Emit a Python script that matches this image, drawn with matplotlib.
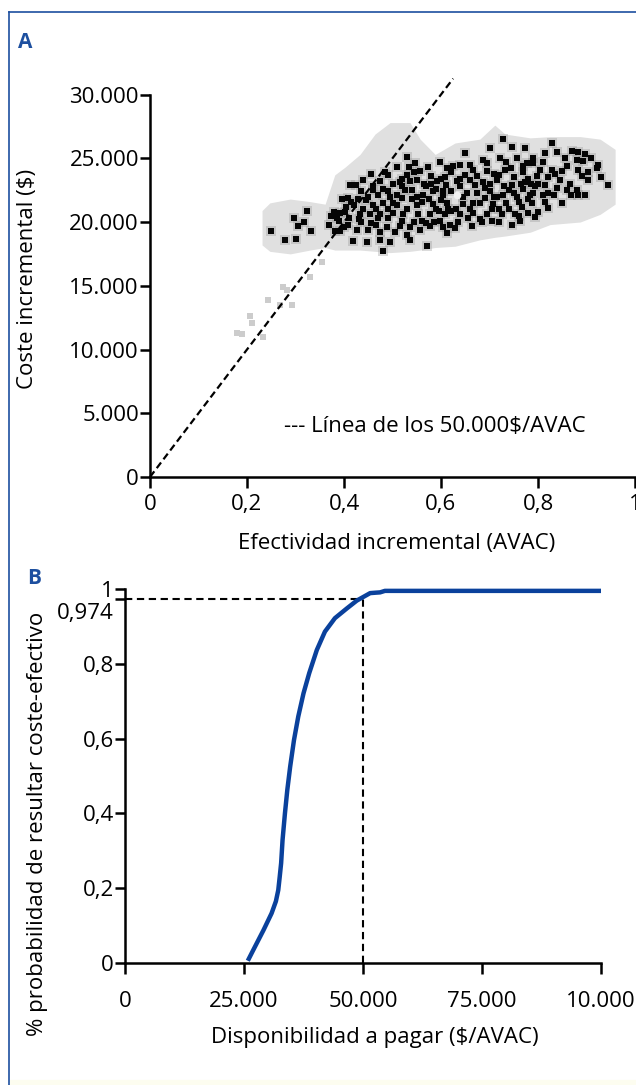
import matplotlib
matplotlib.use("Agg")
import matplotlib.pyplot as plt
from matplotlib.lines import Line2D
from matplotlib.transforms import ScaledTranslation

plt.rcParams['font.family'] = ['Open Sans', 'DejaVu Sans']

# ---------------- Panel A data ----------------
# dark simulation points (effectiveness AVAC, cost in thousands $)
dark_x = [0.249, 0.278, 0.297, 0.302, 0.305, 0.318, 0.323, 0.332, 0.373, 0.392, 0.392, 0.404, 0.409,
          0.412, 0.436, 0.429, 0.460, 0.474, 0.491, 0.480, 0.509, 0.519, 0.529, 0.546, 0.557, 0.573, 0.598,
          0.540, 0.563, 0.584, 0.577, 0.553, 0.522, 0.501, 0.474, 0.454, 0.433, 0.402, 0.385, 0.408, 0.426,
          0.449, 0.467, 0.488, 0.515, 0.536, 0.557, 0.577, 0.598, 0.474, 0.495, 0.536, 0.480, 0.447, 0.419,
          0.381, 0.571, 0.529, 0.509, 0.491, 0.536, 0.591, 0.604, 0.584,
          0.649, 0.701, 0.728, 0.746, 0.773, 0.687, 0.722, 0.756, 0.777, 0.612, 0.639, 0.666, 0.694, 0.732,
          0.769, 0.608, 0.632, 0.660, 0.687, 0.715, 0.746, 0.773, 0.604, 0.653, 0.674, 0.701, 0.728, 0.756,
          0.784, 0.612, 0.645, 0.680, 0.707, 0.735, 0.766, 0.608, 0.639, 0.666, 0.694, 0.725, 0.753, 0.779,
          0.619, 0.663, 0.705, 0.746, 0.763, 0.612, 0.629,
          0.828, 0.814, 0.839, 0.883, 0.897, 0.880, 0.893, 0.856, 0.924, 0.921, 0.790, 0.804, 0.828, 0.859,
          0.883, 0.904, 0.797, 0.821, 0.845, 0.904, 0.945, 0.794, 0.814, 0.839, 0.859, 0.880, 0.869, 0.883,
          0.897, 0.790, 0.811, 0.832, 0.787, 0.814, 0.801, 0.794, 0.821,
          0.44, 0.45, 0.46, 0.47, 0.48, 0.49, 0.50, 0.50, 0.52, 0.52, 0.53, 0.54, 0.55, 0.55, 0.56, 0.57,
          0.58, 0.59, 0.60, 0.61, 0.62, 0.62, 0.63, 0.64, 0.65, 0.66, 0.67, 0.68, 0.69, 0.70, 0.71, 0.72,
          0.72, 0.74, 0.75, 0.76, 0.77, 0.78, 0.43, 0.46, 0.39, 0.42,
          0.41, 0.415, 0.425, 0.435, 0.44, 0.445, 0.455, 0.455, 0.465, 0.47, 0.475, 0.485, 0.49, 0.495,
          0.505, 0.51, 0.515, 0.52, 0.525, 0.53, 0.535, 0.545, 0.545, 0.55, 0.56, 0.565, 0.57, 0.575,
          0.58, 0.585, 0.59, 0.595, 0.60, 0.605, 0.615, 0.62, 0.625, 0.635, 0.64, 0.645, 0.655, 0.66,
          0.665, 0.675, 0.685, 0.69, 0.695, 0.705, 0.71, 0.715, 0.72, 0.73, 0.735, 0.74, 0.745, 0.75,
          0.76, 0.765, 0.77, 0.78, 0.785, 0.79, 0.80, 0.81, 0.82, 0.835, 0.85, 0.865, 0.87, 0.89, 0.91,
          0.93, 0.85, 0.37, 0.38, 0.395, 0.40]
dark_y = [19.3, 18.6, 20.3, 18.7, 19.7, 20.0, 20.9, 19.3, 20.5, 20.7, 19.3, 21.2, 21.9,
          22.9, 22.4, 21.8, 22.8, 23.2, 22.4, 21.5, 22.1, 22.8, 23.7, 24.6, 24.0, 24.3, 24.7,
          21.8, 22.1, 21.4, 20.6, 20.6, 20.6, 20.7, 20.6, 20.6, 20.6, 20.8, 20.3, 19.8, 19.4,
          19.4, 19.8, 19.6, 19.7, 19.6, 19.4, 19.7, 20.1, 18.6, 18.4, 18.6, 17.7, 18.4, 18.5,
          19.3, 18.1, 25.1, 24.3, 23.7, 23.2, 23.2, 22.1, 22.4,
          25.4, 25.8, 26.5, 25.9, 25.8, 24.9, 25.0, 25.0, 24.6, 24.2, 24.5, 24.1, 24.0, 24.1,
          23.9, 23.5, 23.2, 23.3, 23.1, 23.3, 22.9, 23.1, 22.4, 22.3, 22.3, 22.4, 22.1, 22.0,
          22.1, 21.5, 21.4, 21.5, 21.4, 21.5, 21.2, 20.6, 20.6, 20.7, 20.6, 20.6, 20.6, 20.7,
          19.8, 19.7, 20.1, 19.8, 20.1, 19.1, 19.5,
          26.2, 25.4, 25.5, 25.5, 25.3, 24.9, 24.8, 25.0, 24.5, 24.2, 24.6, 24.1, 24.1, 24.4,
          24.1, 23.9, 23.6, 23.5, 23.3, 23.3, 22.9, 22.8, 22.9, 22.7, 22.5, 22.5, 22.1, 22.1,
          22.1, 22.3, 22.1, 22.1, 21.5, 21.6, 20.8, 20.4, 21.1,
          21.0, 22.0, 21.3, 20.3, 22.6, 21.0, 23.0, 21.5, 21.9, 23.4, 21.0, 22.5, 23.3, 21.3, 20.1, 22.8,
          23.6, 21.0, 21.7, 22.9, 20.9, 23.9, 21.0, 22.8, 23.7, 21.0, 22.9, 20.2, 21.9, 23.0, 22.0, 21.0,
          23.7, 22.5, 23.5, 21.6, 22.6, 23.4, 20.2, 22.5, 20.1, 21.3,
          20.3, 21.6, 22.9, 20.0, 23.3, 21.7, 19.9, 23.8, 21.0, 22.1, 19.2, 23.9, 20.3, 22.0,
          19.2, 21.3, 23.1, 20.1, 22.5, 19.0, 24.3, 20.0, 23.9, 22.0, 21.6, 23.0, 19.9, 21.8,
          23.0, 20.0, 22.6, 20.9, 23.4, 19.6, 21.0, 22.4, 24.4, 20.0, 23.4, 22.0, 20.3, 24.5,
          21.5, 23.6, 20.0, 22.7, 24.6, 21.0, 23.8, 22.0, 20.0, 22.8, 24.7, 21.0, 24.2, 22.3,
          20.5, 23.0, 24.4, 21.8, 23.0, 25.0, 23.0, 24.7, 22.3, 23.8, 24.0, 23.0, 25.6, 23.6, 25.0,
          23.5, 21.5, 19.8, 20.8, 21.8, 19.6]

# envelope of the grey cloud of simulations (thousands $)
cloud_x = [0.231, 0.247, 0.289, 0.330, 0.361, 0.381, 0.402, 0.433, 0.464, 0.495, 0.536, 0.557,
           0.588, 0.629, 0.680, 0.711, 0.732, 0.784, 0.825, 0.887, 0.928, 0.959]
cloud_lo = [18.2, 17.7, 17.5, 17.8, 18.0, 17.8, 17.8, 17.8, 17.7, 17.6, 17.7, 17.8,
            18.0, 18.1, 18.6, 18.8, 18.9, 19.2, 19.8, 20.0, 20.6, 21.4]
cloud_hi = [20.9, 21.5, 21.8, 21.6, 21.4, 23.7, 24.3, 25.3, 26.9, 27.8, 27.8, 26.5,
            25.3, 26.2, 26.5, 27.6, 26.9, 26.6, 26.7, 26.7, 26.5, 25.7]

# sparse grey tail points
tail_x = [0.355, 0.330, 0.274, 0.282, 0.243, 0.268, 0.293, 0.206, 0.210, 0.179, 0.190, 0.233]
tail_y = [16.9, 15.7, 14.9, 14.7, 13.9, 13.5, 13.5, 12.6, 12.1, 11.3, 11.2, 11.0]

mean_point = (0.632, 22.1)
umbral = 50000  # $/AVAC

a_xticks = [0, 0.2, 0.4, 0.6, 0.8, 1.0]
a_xlabels = ["0", "0,2", "0,4", "0,6", "0,8", "1"]
a_yticks = [0, 5000, 10000, 15000, 20000, 25000, 30000]
a_ylabels = ["0", "5.000", "10.000", "15.000", "20.000", "25.000", "30.000"]

# ---------------- Panel B data ----------------
wtp = [25800, 26960, 29100, 30800, 31700, 32200, 32500, 32800, 33100, 33600, 34100, 34700, 35500,
       36400, 37500, 38700, 40300, 42000, 44100, 46600, 48700, 50100, 51500, 52500, 53600,
       54600, 100000]
prob = [0.006, 0.035, 0.088, 0.133, 0.165, 0.195, 0.230, 0.267, 0.329, 0.400, 0.463, 0.525, 0.596,
        0.659, 0.721, 0.775, 0.837, 0.886, 0.922, 0.948, 0.969, 0.979, 0.989, 0.990, 0.991,
        0.995, 0.995]
p_umbral = 0.974

b_xticks = [0, 25000, 50000, 75000, 100000]
b_xlabels = ["0", "25.000", "50.000", "75.000", "10.000"]
b_yticks = [0, 0.2, 0.4, 0.6, 0.8, 0.974, 1.0]
b_ylabels = ["0", "0,2", "0,4", "0,6", "0,8", "0,974", "1"]

BLUE = "#1d4f9f"
CURVE = "#0a419c"
W, H = 636, 1085
fig = plt.figure(figsize=(W / 100, H / 100), dpi=100)

# frame
fig.add_artist(Line2D([9 / W, 9 / W], [0, 1 - 12 / H], color=BLUE, lw=1.2))
fig.add_artist(Line2D([9 / W, 1], [1 - 12 / H, 1 - 12 / H], color=BLUE, lw=1.2))
fig.patches.append(plt.Rectangle((10 / W, 0), 1, 5 / H, transform=fig.transFigure,
                                 color="#fdfdf0", zorder=0))

FS = 16
# ---------------- Panel A ----------------
axA = fig.add_axes([150 / W, 1 - 477 / H, 485 / W, 401.6 / H])
axA.fill_between(cloud_x, [v * 1000 for v in cloud_lo], [v * 1000 for v in cloud_hi],
                 color="#e0e0e0", lw=0, zorder=1)
axA.scatter(tail_x, [v * 1000 for v in tail_y], s=14, marker='s', color="#cccccc", lw=0, zorder=1)
axA.scatter(dark_x, [v * 1000 for v in dark_y], s=55, marker='s', color="#8a8a8a", alpha=0.3,
            lw=0, zorder=2)
axA.scatter(dark_x, [v * 1000 for v in dark_y], s=22, marker='s', color="#050505", lw=0, zorder=3)
axA.scatter([mean_point[0]], [mean_point[1] * 1000], s=30, marker='o', color="#f2f2f2", lw=0, zorder=4)
xl = [0, 0.625]
axA.plot(xl, [umbral * v for v in xl], color="black", lw=1.6, ls=(0, (3.2, 1.8)), zorder=5, clip_on=False)
axA.set_xlim(0, 1)
axA.set_ylim(0, 31500)
axA.spines['top'].set_visible(False)
axA.spines['right'].set_visible(False)
axA.spines['left'].set_bounds(0, 30000)
for s in ['left', 'bottom']:
    axA.spines[s].set_linewidth(1.8)
axA.set_xticks(a_xticks, a_xlabels)
axA.set_yticks(a_yticks, a_ylabels)
axA.tick_params(axis='x', length=8, width=1.8, labelsize=FS, pad=4)
axA.tick_params(axis='y', length=7, width=1.8, labelsize=FS, pad=1)
axA.set_xlabel("Efectividad incremental (AVAC)", fontsize=FS)
axA.xaxis.set_label_coords(397 / W, 1 - 543 / H, transform=fig.transFigure)
axA.set_ylabel("Coste incremental ($)", fontsize=FS)
axA.yaxis.set_label_coords(28 / W, 1 - 279 / H, transform=fig.transFigure)
axA.yaxis.label.set_va('center')
axA.xaxis.label.set_va('center')
axA.text(0.276, 4000, "--- Línea de los 50.000$/AVAC", fontsize=FS, va='center', ha='left')
fig.text(18 / W, 1 - 42 / H, "A", color=BLUE, fontsize=15, fontweight='bold', va='center')

# ---------------- Panel B ----------------
axB = fig.add_axes([125 / W, 1 - 963 / H, 476 / W, 374 / H])
axB.plot(wtp, prob, color=CURVE, lw=3.2, solid_capstyle='butt', clip_on=False, zorder=3)
axB.plot([0, 50000], [p_umbral, p_umbral], color="black", lw=1.5, ls=(0, (3.5, 2.2)), zorder=2)
axB.plot([50000, 50000], [0, p_umbral], color="black", lw=1.5, ls=(0, (3.5, 2.2)), zorder=2)
axB.set_xlim(0, 100000)
axB.set_ylim(0, 1.0)
axB.spines['top'].set_visible(False)
axB.spines['right'].set_visible(False)
for s in ['left', 'bottom']:
    axB.spines[s].set_linewidth(1.8)
axB.set_xticks(b_xticks, b_xlabels)
axB.set_yticks(b_yticks, b_ylabels)
axB.tick_params(axis='x', length=8, width=1.8, labelsize=FS, pad=12)
axB.tick_params(axis='y', length=7, width=1.8, labelsize=FS, pad=1)
lbl = axB.get_yticklabels()
lbl[5].set_transform(lbl[5].get_transform() + ScaledTranslation(0, -12 / 100, fig.dpi_scale_trans))
axB.set_xlabel("Disponibilidad a pagar ($/AVAC)", fontsize=FS)
axB.xaxis.set_label_coords(375 / W, 1 - 1038 / H, transform=fig.transFigure)
axB.xaxis.label.set_va('center')
axB.set_ylabel("% probabilidad de resultar coste-efectivo", fontsize=FS)
axB.yaxis.set_label_coords(38 / W, 1 - 824 / H, transform=fig.transFigure)
axB.yaxis.label.set_va('center')
fig.text(27 / W, 1 - 578 / H, "B", color=BLUE, fontsize=15, fontweight='bold', va='center')

fig.savefig("out.png", dpi=100)
